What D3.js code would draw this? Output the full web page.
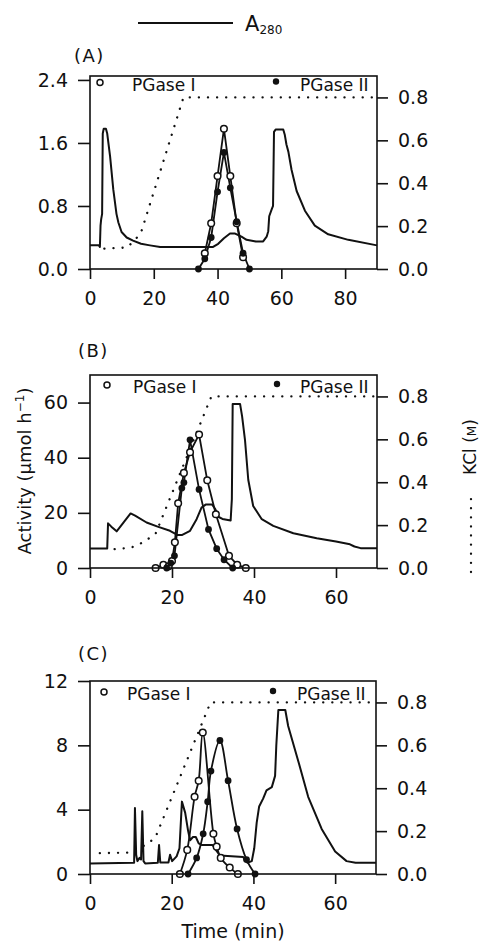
<!DOCTYPE html>
<html>
<head>
<meta charset="utf-8">
<script src="https://cdn.jsdelivr.net/npm/d3@7"></script>
<style>
	body	{ margin: 0; background: #fff; }
	svg		{ display: block; font-family: 'DejaVu Sans', sans-serif; }
</style>
</head>
<body>
<div id="root"></div>
<script>
// A280 traces (time in min, value in left-axis units)
const a280A	= [[0,0.30],[2.8,0.30],[3.1,0.28],[3.3,0.55],[3.5,0.63],[3.8,0.70],[4.0,1.72],[4.3,1.78],[5.0,1.78],[5.4,1.72],[6.3,1.43],[7.3,1.01],[8.3,0.70],[8.9,0.59],[9.9,0.47],[11.5,0.40],[13.5,0.36],[16,0.32],[18.8,0.30],[22,0.28],[30,0.28],[38.6,0.28],[40.2,0.32],[42,0.39],[43.9,0.45],[45.5,0.45],[47.5,0.41],[49.1,0.37],[52,0.35],[54.3,0.35],[55.4,0.41],[55.9,0.48],[56.2,0.67],[57.0,0.76],[57.4,0.80],[57.7,1.74],[58.2,1.77],[60.6,1.77],[61.1,1.70],[61.6,1.58],[62.2,1.49],[63.2,1.26],[64.8,0.99],[67.4,0.74],[70.5,0.55],[74.7,0.44],[81,0.37],[90,0.30]];
const a280B	= [[0,7.1],[4.2,7.1],[4.4,16.2],[5.2,15],[6.5,13.3],[9.9,19.8],[11,19],[13.8,16.5],[16.5,15],[19.5,13.5],[21.3,12],[22.5,12],[24.4,13.5],[26,17.7],[27.2,21.9],[28.2,23],[29.8,23],[30.5,21.5],[31.4,18.5],[32.3,17.8],[34.3,17.2],[34.6,25],[34.8,59.5],[36.6,59.5],[37.1,55],[37.8,46.5],[38.6,32],[39.8,22.5],[41.9,17.7],[44.7,15.3],[49.6,12.6],[55.3,10.8],[60,9.6],[63.4,8.6],[64.5,7.8],[66,7.2],[70,7.2]];
const a280C	= [[0,0.66],[10.8,0.7],[11.0,4.1],[11.3,1.2],[11.6,0.8],[12.1,1.0],[12.5,0.9],[12.8,3.9],[13.1,0.8],[13.5,0.66],[16.6,0.7],[16.9,1.8],[17.2,0.72],[19.2,0.72],[19.6,1.2],[20.1,0.8],[21.2,1.1],[21.9,1.6],[22.5,4.5],[23.3,3.8],[24,2.7],[24.5,2.1],[25.2,2.3],[25.9,2.3],[26.6,1.9],[27.4,1.8],[30,1.8],[30.8,1.5],[31.8,1.15],[37.5,1.05],[38.5,0.7],[39.6,0.8],[40.2,1.6],[40.8,3.2],[41.4,4.2],[42.4,4.7],[43.2,5.2],[44.5,5.4],[45.3,6.1],[45.6,8.0],[46.1,10.2],[47.8,10.2],[48.5,9.2],[51,7.0],[53.4,4.8],[56.7,2.8],[60,1.4],[62.8,0.8],[65,0.7],[70,0.7]];

// KCl gradient (M)
const kclA	= [[4.5,0.095],[11.5,0.1],[13.8,0.13],[16,0.17],[29.3,0.8],[90,0.8]];
const kclB	= [[6,0.088],[10,0.095],[13,0.12],[16,0.16],[29.6,0.8],[70,0.8]];
const kclC	= [[2.4,0.097],[10,0.1],[14,0.14],[16,0.17],[29.5,0.8],[70,0.8]];

// PGase I (open) and PGase II (filled) activity
const pg1A	= [[36,0.2],[38,0.58],[40,1.18],[42,1.78],[44,1.18],[46,0.58],[48,0.15]];
const pg2A	= [[34,0],[36,0.13],[38,0.40],[40,0.98],[42,1.48],[44,1.03],[46,0.60],[48,0.20],[50,0]];
const pg1B	= [[16,0],[17.9,1.2],[19.2,0.6],[20,2.5],[20.7,9.3],[21.5,23.5],[22.9,34.5],[24.4,42],[26.6,48.4],[28.6,31.8],[30.7,19.5],[33.9,4.4],[35.9,1.2],[38,0]];
const pg2B	= [[18.7,0],[19.7,1.8],[20.6,4.4],[22.4,29],[22.9,31],[24.4,46.5],[26.6,28.5],[28.9,14],[30.9,7],[32.7,3],[34.8,0]];
const pg1C	= [[22,0],[23.8,1.5],[25.6,4.8],[26.6,5.8],[27.6,8.8],[30.2,2.5],[31,1.7],[32,1.0],[34.2,0.4],[36.2,0]];
const pg2C	= [[24,0],[26.1,1.0],[27.7,2.5],[28.8,4.5],[29.6,6.4],[31.8,8.3],[33.8,5.8],[36,2.8],[38.3,0.9],[40.4,0]];

// axis ticks
const xTicksA	= [0, 20, 40, 60, 80];
const xTicksBC	= [0, 20, 40, 60];
const yTicksA	= [0, 0.8, 1.6, 2.4];
const yTicksB	= [0, 20, 40, 60];
const yTicksC	= [0, 4, 8, 12];
const kclTicks	= [0, 0.2, 0.4, 0.6, 0.8];

const ink		= '#111';
const fontTick	= 19;

const panels	= [
	{ label: '(A)', lx: 74, ly: 62, top: 76, right: 377, xMax: 90, yMax: 2.45, xTicks: xTicksA, yTicks: yTicksA, yFmt: d3.format('.1f'), a280: a280A, kcl: kclA, pg1: pg1A, pg2: pg2A, curve: d3.curveLinear, lgDy: 14.5, lg: [100, 132, 276, 300] },
	{ label: '(B)', lx: 78, ly: 357, top: 375, right: 377, xMax: 70, yMax: 70, xTicks: xTicksBC, yTicks: yTicksB, yFmt: d3.format('d'), a280: a280B, kcl: kclB, pg1: pg1B, pg2: pg2B, curve: d3.curveLinear, lgDy: 18, lg: [107, 133, 277, 300] },
	{ label: '(C)', lx: 78, ly: 660, top: 681, right: 376, xMax: 70, yMax: 12, xTicks: xTicksBC, yTicks: yTicksC, yFmt: d3.format('d'), a280: a280C, kcl: kclC, pg1: pg1C, pg2: pg2C, curve: d3.curveCatmullRom, lgDy: 19, lg: [104, 127, 273, 297] },
];

const left		= 90;
const ph		= 193;

const svg	= d3.select('#root').append('svg')
	.attr('width', 481)
	.attr('height', 941);

// top legend
svg.append('line')
	.attr('x1', 138).attr('x2', 233).attr('y1', 23).attr('y2', 23)
	.attr('stroke', ink).attr('stroke-width', 2);
let lgText	= svg.append('text').attr('x', 245).attr('y', 31).style('font-size', '21px').attr('fill', ink).text('A');
lgText.append('tspan').attr('dy', 3).style('font-size', '12px').text('280');

panels.forEach((p) => {
	let w		= p.right - left;
	let x		= d3.scaleLinear().domain([0, p.xMax]).range([0, w]);
	let yL		= d3.scaleLinear().domain([0, p.yMax]).range([ph, 0]);
	let yR		= d3.scaleLinear().domain([0, 0.9]).range([ph, 0]);

	svg.append('text')
		.attr('x', p.lx).attr('y', p.ly)
		.style('font-size', '18px').style('letter-spacing', '1.5px')
		.attr('fill', ink).text(p.label);

	let g		= svg.append('g').attr('transform', 'translate(' + left + ',' + p.top + ')');

	// kcl dotted
	g.append('path')
		.datum(p.kcl)
		.attr('d', d3.line().x(d => x(d[0])).y(d => yR(d[1])))
		.attr('fill', 'none').attr('stroke', ink).attr('stroke-width', 2.3)
		.attr('stroke-linecap', 'round').attr('stroke-dasharray', '0.1,9');

	// A280
	g.append('path')
		.datum(p.a280)
		.attr('d', d3.line().x(d => x(d[0])).y(d => yL(d[1])))
		.attr('fill', 'none').attr('stroke', ink).attr('stroke-width', 2).attr('stroke-linejoin', 'round');

	let act	= d3.line().curve(p.curve).x(d => x(d[0])).y(d => yL(d[1]));
	[p.pg1, p.pg2].forEach((s) => {
		g.append('path').datum(s).attr('d', act)
			.attr('fill', 'none').attr('stroke', ink).attr('stroke-width', 1.8);
	});

	g.selectAll('.open').data(p.pg1).enter().append('circle')
		.attr('cx', d => x(d[0])).attr('cy', d => yL(d[1])).attr('r', 3.3)
		.attr('fill', '#fff').attr('stroke', ink).attr('stroke-width', 1.5);
	g.selectAll('.fill').data(p.pg2).enter().append('circle')
		.attr('cx', d => x(d[0])).attr('cy', d => yL(d[1])).attr('r', 3.4)
		.attr('fill', ink);

	// frame
	g.append('rect').attr('width', w).attr('height', ph)
		.attr('fill', 'none').attr('stroke', ink).attr('stroke-width', 1.6);

	let ax	= [
		g.append('g').attr('transform', 'translate(0,' + ph + ')')
			.call(d3.axisBottom(x).tickValues(p.xTicks).tickSize(10).tickPadding(13).tickFormat(d3.format('d'))),
		g.append('g')
			.call(d3.axisLeft(yL).tickValues(p.yTicks).tickSize(12).tickPadding(10).tickFormat(p.yFmt)),
		g.append('g').attr('transform', 'translate(' + w + ',0)')
			.call(d3.axisRight(yR).tickValues(kclTicks).tickSize(11).tickPadding(10).tickFormat(d3.format('.1f'))),
	];
	ax.forEach((a) => {
		a.select('.domain').remove();
		a.selectAll('line').attr('stroke', ink).attr('stroke-width', 1.6);
		a.selectAll('text').attr('fill', ink).style('font-size', fontTick + 'px').style('font-family', "'DejaVu Sans', sans-serif");
	});

	// legend inside
	let ly	= p.top + p.lgDy;
	svg.append('circle').attr('cx', p.lg[0]).attr('cy', ly - 8).attr('r', 3)
		.attr('fill', '#fff').attr('stroke', ink).attr('stroke-width', 1.5);
	svg.append('text').attr('x', p.lg[1]).attr('y', ly).style('font-size', '17px').attr('fill', ink).text('PGase I');
	svg.append('circle').attr('cx', p.lg[2]).attr('cy', ly - 9).attr('r', 3.2).attr('fill', ink);
	svg.append('text').attr('x', p.lg[3]).attr('y', ly).style('font-size', '17px').attr('fill', ink).text('PGase II');
});

// y label
let yl	= svg.append('text')
	.attr('transform', 'translate(31,471) rotate(-90)')
	.attr('text-anchor', 'middle')
	.style('font-size', '18px').attr('fill', ink)
	.text('Activity (\u00b5mol h');
yl.append('tspan').attr('dy', -7).style('font-size', '12px').text('\u22121');
yl.append('tspan').attr('dy', 7).text(')');

// right label
let kl	= svg.append('text')
	.attr('transform', 'translate(476,475) rotate(-90)')
	.style('font-size', '17px').attr('fill', ink)
	.text('KCl (');
kl.append('tspan').style('font-size', '12px').text('M');
kl.append('tspan').text(')');
svg.append('line')
	.attr('x1', 471).attr('x2', 471).attr('y1', 572).attr('y2', 497)
	.attr('stroke', ink).attr('stroke-width', 2.3)
	.attr('stroke-linecap', 'round').attr('stroke-dasharray', '0.1,9');

// x label
svg.append('text')
	.attr('x', 233).attr('y', 938)
	.attr('text-anchor', 'middle')
	.style('font-size', '19px').attr('fill', ink)
	.text('Time (min)');
</script>
</body>
</html>
